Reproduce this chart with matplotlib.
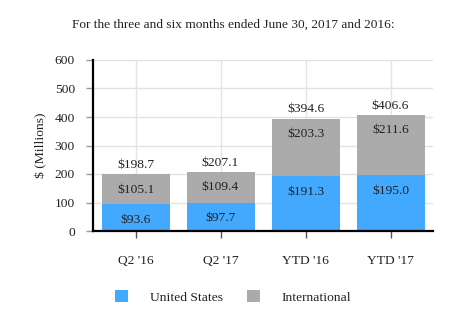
import matplotlib
matplotlib.use("Agg")
import matplotlib.pyplot as plt
from matplotlib.patches import Patch

plt.rcParams['font.family'] = ['Liberation Serif', 'DejaVu Serif']

categories = ["Q2 '16", "Q2 '17", "YTD '16", "YTD '17"]
us_values = [93.6, 97.7, 191.3, 195.0]
intl_values = [105.1, 109.4, 203.3, 211.6]
totals = [198.7, 207.1, 394.6, 406.6]
y_ticks = [0, 100, 200, 300, 400, 500, 600]

blue = '#42A9FF'
gray = '#ABABAB'
text_color = '#222222'
fs = 9.7

fig = plt.figure(figsize=(4.66, 3.33), dpi=100)
ax = fig.add_axes([93 / 466, 1 - 231 / 333, 340 / 466, 171 / 333])

x = list(range(len(categories)))
ax.bar(x, us_values, width=0.8, color=blue, zorder=2)
ax.bar(x, intl_values, width=0.8, bottom=us_values, color=gray, zorder=2)

for xi, us, intl, tot in zip(x, us_values, intl_values, totals):
    ax.annotate(f"${us:.1f}", (xi, us), xytext=(0, -11), textcoords='offset points',
                ha='center', va='center', fontsize=fs, color=text_color, zorder=3)
    ax.annotate(f"${intl:.1f}", (xi, us + intl), xytext=(0, -11), textcoords='offset points',
                ha='center', va='center', fontsize=fs, color=text_color, zorder=3)
    ax.annotate(f"${tot:.1f}", (xi, tot), xytext=(0, 2.5), textcoords='offset points',
                ha='center', va='bottom', fontsize=fs, color=text_color, zorder=3)

ax.set_xlim(-0.5, len(categories) - 0.5)
ax.set_ylim(0, 600)
ax.set_yticks(y_ticks)
ax.set_xticks(x)
ax.set_xticklabels(categories)
ax.tick_params(axis='y', length=5, width=1, color='#999999', labelsize=fs,
               labelcolor=text_color, pad=8)
ax.tick_params(axis='x', length=5, width=1, color='#555555', labelsize=fs,
               labelcolor=text_color, pad=12)
ax.grid(True, color='#E3E3E3', linewidth=1, zorder=0)
ax.set_axisbelow(True)

for side in ('top', 'right'):
    ax.spines[side].set_visible(False)
ax.spines['left'].set_linewidth(1.6)
ax.spines['bottom'].set_linewidth(1.6)
ax.spines['left'].set_color('black')
ax.spines['bottom'].set_color('black')

ax.set_ylabel("$ (Millions)", fontsize=fs, color=text_color, labelpad=5)

fig.text(233 / 466, 1 - 25 / 333, "For the three and six months ended June 30, 2017 and 2016:",
         ha='center', va='center', fontsize=9.6, color=text_color)

handles = [Patch(facecolor=blue), Patch(facecolor=gray)]
fig.legend(handles, ["United States", "International"], loc='center',
           bbox_to_anchor=(233 / 466, 1 - 297 / 333), ncol=2, frameon=False,
           fontsize=fs, handlelength=1.0, handleheight=1.0, handletextpad=1.6,
           columnspacing=1.8, labelcolor=text_color)

fig.savefig("out.png", dpi=100)
